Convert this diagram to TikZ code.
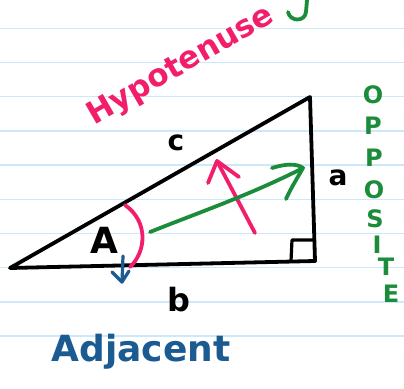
\documentclass[tikz,border=0pt]{standalone}
\usepackage{fontspec}
\setmainfont{DejaVu Sans}
\definecolor{pinkc}{RGB}{242,29,107}
\definecolor{greenc}{RGB}{27,140,58}
\definecolor{bluec}{RGB}{28,90,146}
\definecolor{paperline}{RGB}{204,233,249}
\tikzset{
  ink/.style={line width=3.8pt, line cap=round, line join=round},
  lbl/.style={inner sep=0pt, font=\bfseries\fontsize{28}{28}\selectfont},
  opp/.style={inner sep=0pt, text=greenc, font=\bfseries\fontsize{24}{24}\selectfont},
}
\begin{document}
\begin{tikzpicture}[x=1pt,y=-1pt]
\useasboundingbox (0,0) rectangle (404,388);
\fill[white] (0,0) rectangle (404,388);
% ruled paper
\foreach \k in {0,...,9}{
  \draw[paperline, line width=1.3pt] (0,28.3+34.2*\k) -- (404,28.3+34.2*\k);
}
% triangle
\coordinate (L) at (10,268);
\coordinate (T) at (310,97);
\coordinate (R) at (315,261);
\draw[ink, black] (L) -- (T) -- (R) -- cycle;
\draw[black, line width=3.2pt, line join=round] (291,261) -- (292,240) -- (314,240);
% labels
\node[lbl] (c) at (176,143) {c};
\node[lbl] (a) at (338,178) {a};
\node[lbl, font=\bfseries\fontsize{32}{32}\selectfont] (b) at (179,300) {b};
\node[lbl, font=\bfseries\fontsize{36}{36}\selectfont] (A) at (104,240) {A};
% angle arc
\draw[ink, pinkc] (125,205) .. controls (149,222) and (146,252) .. (130,267);
% red arrow
\coordinate (r0) at (255,233);
\coordinate (r1) at (217,161);
\draw[ink, pinkc] (r0) -- (r1);
\draw[ink, pinkc] (208,183) -- (r1) -- (239,177);
% green arrow
\coordinate (g0) at (150,232);
\coordinate (g1) at (303,168);
\draw[ink, greenc] (g0) .. controls (200,212) and (250,195) .. (g1);
\draw[ink, greenc] (272,168) .. controls (285,164) and (296,163) .. (g1) .. controls (296,180) and (290,190) .. (286,199);
% blue arrow
\coordinate (b0) at (123,256);
\coordinate (b1) at (122,282);
\draw[ink, bluec, line width=3.2pt] (b0) -- (b1);
\draw[ink, bluec, line width=3.2pt] (112,272) -- (b1) -- (129,271);
% green J fragment
\draw[ink, greenc] (307,0) -- (306,12) .. controls (305,22) and (290,22) .. (288,12);
% texts
\node[inner sep=0pt, text=pinkc, rotate=30, font=\bfseries\fontsize{31}{31}\selectfont] (hyp) at (181,66) {Hypotenuse};
\node[inner sep=0pt, text=bluec, font=\bfseries\fontsize{36}{36}\selectfont] (adj) at (141,352) {Adjacent};
\node[opp] (o1) at (373,95) {O};
\node[opp] (o2) at (373,126) {P};
\node[opp] (o3) at (374,158) {P};
\node[opp] (o4) at (374,190) {O};
\node[opp] (o5) at (375,219) {S};
\node[opp] (o6) at (377,245) {I};
\node[opp] (o7) at (386,267) {T};
\node[opp] (o8) at (391,294) {E};
\end{tikzpicture}
\end{document}
